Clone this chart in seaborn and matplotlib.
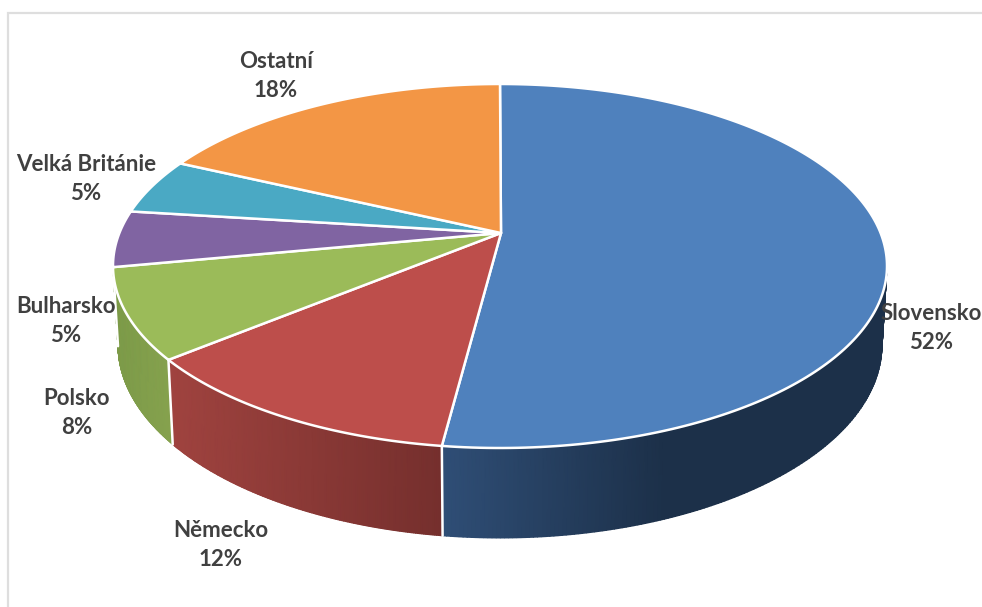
import matplotlib
matplotlib.use("Agg")
import matplotlib.pyplot as plt
import numpy as np
import seaborn as sns
from matplotlib.colors import LinearSegmentedColormap

# shares as labelled, clockwise from 12 o'clock
countries = ["Slovensko", "Německo", "Polsko", "Bulharsko", "Velká Británie", "Ostatní"]
shares = [52, 12, 8, 5, 5, 18]

top_colors = ["#4f81bd", "#bd4e4b", "#9bbb59", "#8064a2", "#4aa9c4", "#f39645"]

# wall gradients, left to right; only the front slices have a visible wall
wall_colors = {
    0: [(0.0, "#2f4e76"), (0.5, "#1c3049"), (1.0, "#1c3049")],
    1: [(0.0, "#a0433f"), (1.0, "#752f2d")],
    2: [(0.0, "#7c9a48"), (1.0, "#86a24e")],
}

# label centres in image pixels
label_pos = [(931, 328), (221, 545), (77, 413), (66, 321), (86, 179), (276, 76)]

# top ellipse, pie apex and bottom ellipse in image pixels
CX, CY, RX, RY = 500, 266, 387, 182
APEX_Y = 233
BX, BY, BRX, BRY = 500, 345, 382, 193
TILT = (CY - APEX_Y) / RY


def warp(frac):
    # perspective mapping of a circle point to the normalised ellipse
    phi = 2 * np.pi * np.asarray(frac, dtype=float)
    x, y = np.sin(phi), np.cos(phi)
    w = 1 + TILT * y
    return x * np.sqrt(1 - TILT**2) / w, (y + TILT) / w


def top_xy(frac):
    xp, yp = warp(frac)
    return CX + RX * xp, CY - RY * yp


def ellipse_angle(frac):
    xp, yp = warp(frac)
    return np.degrees(np.arctan2(xp, yp)) % 360


sns.set_theme(style="white")
plt.rcParams["font.family"] = ["Lato", "DejaVu Sans"]
palette = sns.color_palette(top_colors)

fig = plt.figure(figsize=(9.82, 6.07), dpi=100, facecolor="white")
ax = fig.add_axes([0, 0, 1, 1])
ax.set_xlim(0, 982)
ax.set_ylim(607, 0)
ax.axis("off")

# screenshot frame
ax.plot([8, 8, 982], [607, 13, 13], color="#dedede", lw=1.6, solid_joinstyle="miter")

edges = np.cumsum([0] + shares) / sum(shares)

# side walls
for i, ramp in wall_colors.items():
    start = max(ellipse_angle(edges[i]), 90)
    stop = min(ellipse_angle(edges[i + 1]) if edges[i + 1] < 1 else 360, 270)
    theta = np.radians(np.linspace(start, stop, 160))
    x_top = CX + RX * np.sin(theta)
    y_top = CY - RY * np.cos(theta)
    x_low = BX + BRX * np.sin(theta)
    y_low = BY - BRY * np.cos(theta)
    X = np.vstack([x_top, x_low])
    Y = np.vstack([y_top, y_low])
    cmap = LinearSegmentedColormap.from_list(f"wall{i}", ramp)
    ax.pcolormesh(X, Y, X, shading="gouraud", cmap=cmap, zorder=2, rasterized=True)
    # white seam on the clockwise end of each slice
    if stop < 270:
        ax.plot([x_top[-1], x_low[-1]], [y_top[-1], y_low[-1]], color="white", lw=1.8, zorder=3)

# top face
for i, color in enumerate(palette):
    fracs = np.linspace(edges[i], edges[i + 1], 200)
    x_arc, y_arc = top_xy(fracs)
    ax.fill(
        np.r_[CX + 1, x_arc],
        np.r_[APEX_Y, y_arc],
        facecolor=color,
        edgecolor="white",
        lw=1.8,
        joinstyle="round",
        zorder=4,
    )

for name, share, (x, y) in zip(countries, shares, label_pos):
    ax.text(
        x, y, f"{name}\n{share}%",
        ha="center", va="center", ma="center",
        fontsize=16, fontweight="bold", color="#404040",
        linespacing=1.47, zorder=5,
    )

fig.savefig("out.png", dpi=100, facecolor="white")
